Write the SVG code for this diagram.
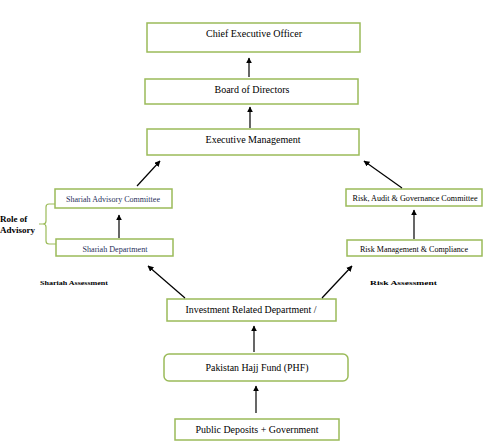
<svg xmlns="http://www.w3.org/2000/svg" width="489" height="446" viewBox="0 0 489 446">
<style>
.box{fill:#fff;stroke:#9bbb59;stroke-width:1.5}
.t{font-family:"Liberation Serif","Times New Roman",serif;fill:#000;text-anchor:middle}
.n{fill:#1f2f5a}
.c{stroke:#000;stroke-width:1.2;fill:none;marker-end:url(#ah)}
.lbl{font-family:"Liberation Serif","Times New Roman",serif;font-weight:bold;fill:#000}
</style>
<defs>
<marker id="ah" viewBox="0 0 10 10" refX="9" refY="5" markerWidth="6" markerHeight="6" orient="auto" markerUnits="userSpaceOnUse">
<path d="M0,0 L10,5 L0,10 z" fill="#000"/>
</marker>
</defs>
<rect width="489" height="446" fill="#fff"/>
<g id="ceo"><rect class="box" x="147" y="23" width="213" height="29"/><text class="t" x="254" y="37" font-size="10" textLength="96" lengthAdjust="spacingAndGlyphs">Chief Executive Officer</text></g>
<g id="board"><rect class="box" x="145" y="79" width="213" height="25"/><text class="t" x="252" y="93" font-size="10" textLength="75" lengthAdjust="spacingAndGlyphs">Board of Directors</text></g>
<g id="exec"><rect class="box" x="147" y="129" width="212" height="26"/><text class="t" x="253" y="143" font-size="10" textLength="95" lengthAdjust="spacingAndGlyphs">Executive Management</text></g>
<g id="sac"><rect class="box" x="55" y="189" width="117" height="19"/><text class="t n" x="113" y="201.5" font-size="7.5" textLength="94" lengthAdjust="spacingAndGlyphs">Shariah Advisory Committee</text></g>
<g id="sdept"><rect class="box" x="56" y="239" width="117" height="17"/><text class="t n" x="115" y="251.5" font-size="7.5" textLength="65" lengthAdjust="spacingAndGlyphs">Shariah Department</text></g>
<g id="rag"><rect class="box" x="346" y="189" width="136" height="17"/><text class="t" x="415" y="201" font-size="7.5" textLength="125" lengthAdjust="spacingAndGlyphs">Risk, Audit &amp; Governance Committee</text></g>
<g id="rmc"><rect class="box" x="347" y="240" width="135" height="16"/><text class="t" x="414" y="251.5" font-size="7.5" textLength="108" lengthAdjust="spacingAndGlyphs">Risk Management &amp; Compliance</text></g>
<g id="inv"><rect class="box" x="167" y="299" width="169" height="22"/><text class="t" x="251" y="313" font-size="9.5" textLength="131" lengthAdjust="spacingAndGlyphs">Investment Related Department /</text></g>
<g id="phf"><rect class="box" x="164" y="354" width="184" height="27" rx="5"/><text class="t" x="257" y="370.5" font-size="9.5" textLength="103" lengthAdjust="spacingAndGlyphs">Pakistan Hajj Fund (PHF)</text></g>
<g id="pub"><rect class="box" x="175" y="419" width="164" height="21"/><text class="t" x="257" y="433" font-size="9.5" textLength="123" lengthAdjust="spacingAndGlyphs">Public Deposits + Government</text></g>
<g id="advisory">
<path d="M55,204 H49 Q46,204 46,207 V221 Q46,224 43,224 H39 M43,224 Q46,224 46,227 V241 Q46,244 49,244 H56" fill="none" stroke="#9bbb59" stroke-width="1.2"/>
<text class="lbl" x="0" y="222" font-size="9">Role of</text>
<text class="lbl" x="0" y="233" font-size="9">Advisory</text>
</g>
<g id="labels">
<text class="lbl" x="40" y="285" font-size="7" textLength="68" lengthAdjust="spacingAndGlyphs">Shariah Assessment</text>
<text class="lbl" x="370" y="285" font-size="7" textLength="67" lengthAdjust="spacingAndGlyphs">Risk Assessment</text>
</g>
<g id="connectors">
<line class="c" x1="249" y1="77" x2="249" y2="58"/>
<line class="c" x1="250" y1="128" x2="250" y2="107"/>
<line class="c" x1="137" y1="186" x2="160" y2="161"/>
<line class="c" x1="402" y1="188" x2="364" y2="161"/>
<line class="c" x1="119" y1="238" x2="119" y2="215"/>
<line class="c" x1="414" y1="239" x2="414" y2="210"/>
<line class="c" x1="185" y1="298" x2="148" y2="266"/>
<line class="c" x1="322" y1="298" x2="352" y2="266"/>
<line class="c" x1="254" y1="352" x2="254" y2="326"/>
<line class="c" x1="256" y1="413" x2="256" y2="386"/>
</g>
</svg>
